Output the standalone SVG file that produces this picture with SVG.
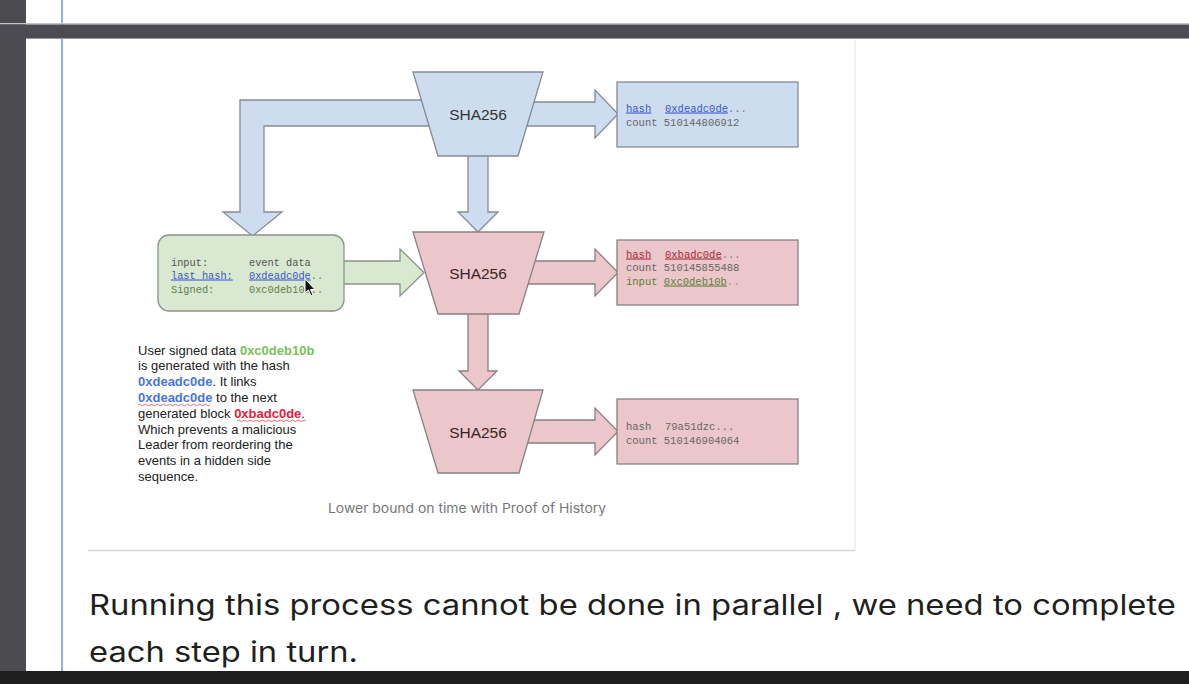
<svg xmlns="http://www.w3.org/2000/svg" width="1189" height="684" viewBox="0 0 1189 684">
<style>
.blue{fill:#cddcee;stroke:#858b95;stroke-width:1.3}
.pink{fill:#ebc6ca;stroke:#8b8083;stroke-width:1.3}
.green{fill:#d9e8d1;stroke:#8a948a;stroke-width:1.3}
.sha{font-family:"Liberation Sans",Arial,sans-serif;font-size:15.5px;text-anchor:middle}
.mono{font-family:"Liberation Mono","Courier New",monospace;font-size:10.5px;fill:#666}
.desc{font-family:"Liberation Sans",Arial,sans-serif;font-size:13px;fill:#222}
.hex{font-weight:bold}
.ul{text-decoration:underline}
</style>
<rect x="0" y="0" width="1189" height="684" fill="#ffffff"/>
<rect x="0" y="0" width="26" height="684" fill="#4b4b50"/>
<rect x="61" y="0" width="2" height="672" fill="#8fb0ee"/>
<rect x="0" y="23" width="1189" height="1.5" fill="#c4c4c6"/>
<rect x="0" y="24.5" width="1189" height="13.5" fill="#4d4b52"/>
<rect x="26" y="38" width="1163" height="1" fill="#9a999e"/>
<!-- card -->
<rect x="88" y="39" width="767" height="511" fill="#ffffff"/>
<line x1="855" y1="40" x2="855" y2="550" stroke="#e4e4e6" stroke-width="1"/>
<line x1="88" y1="550.5" x2="855" y2="550.5" stroke="#d6d6d8" stroke-width="1.5"/>

<g id="connectors">
<polygon class="blue" points="430,100 240,100 240,212 223,212 252.5,236 282,212 264,212 264,126 430,126"/>
<polygon class="blue" points="520,102 595,102 595,90 618,114 595,138 595,126 520,126"/>
<polygon class="blue" points="468,150 468,212 458,212 478,232 498,212 488,212 488,150"/>
<polygon class="green" points="338,261 400,261 400,249 424,272.5 400,296 400,284 338,284"/>
<polygon class="pink" points="520,261 595,261 595,249 618,272.5 595,296 595,284 520,284"/>
<polygon class="pink" points="468,308 468,371 459,371 478,390 497,371 488,371 488,308"/>
<polygon class="pink" points="520,420 595,420 595,408 618,431.5 595,455 595,443 520,443"/>
</g>

<g id="sha1">
<polygon class="blue" points="413,72 543,72 518,156 438,156"/>
<text class="sha" x="478" y="120" fill="#333">SHA256</text>
</g>
<g id="sha2">
<polygon class="pink" points="413,232 544,232 519,314 438,314"/>
<text class="sha" x="478" y="279" fill="#3a2326">SHA256</text>
</g>
<g id="sha3">
<polygon class="pink" points="413,390 543,390 519,473 438,473"/>
<text class="sha" x="478" y="438" fill="#3a2326">SHA256</text>
</g>

<g id="out1">
<rect class="blue" x="617" y="82" width="181" height="65"/>
<text class="mono" x="626" y="111.5"><tspan fill="#3a56c8" class="ul">hash</tspan><tspan x="665" fill="#3a56c8" class="ul">0xdeadc0de</tspan><tspan fill="#777">...</tspan></text>
<text class="mono" x="626" y="125.5">count 510144806912</text>
</g>
<g id="out2">
<rect class="pink" x="617" y="240" width="181" height="65"/>
<text class="mono" x="626" y="257.5"><tspan fill="#a8283a" class="ul">hash</tspan><tspan x="665" fill="#a8283a" class="ul">0xbadc0de</tspan><tspan fill="#777">...</tspan></text>
<text class="mono" x="626" y="271">count 510145855488</text>
<text class="mono" x="626" y="284.5"><tspan fill="#5f7f35">input</tspan> <tspan fill="#5f7f35" class="ul">0xc0deb10b</tspan><tspan fill="#8a9a6a">..</tspan></text>
</g>
<g id="out3">
<rect class="pink" x="617" y="399" width="181" height="65"/>
<text class="mono" x="626" y="429.5"><tspan>hash</tspan><tspan x="665">79a51dzc...</tspan></text>
<text class="mono" x="626" y="443.5">count 510146904064</text>
</g>

<g id="input">
<rect class="green" x="158" y="235" width="186" height="76" rx="11" ry="11"/>
<text class="mono" x="171" y="265.5" style="font-size:10.3px"><tspan fill="#555">input:</tspan><tspan x="249" fill="#555">event data</tspan></text>
<text class="mono" x="171" y="278.5" style="font-size:10.3px"><tspan fill="#3a56c8" class="ul">last hash:</tspan><tspan x="249" fill="#3a56c8" class="ul">0xdeadc0de</tspan><tspan fill="#777">..</tspan></text>
<text class="mono" x="171" y="292.5" style="font-size:10.3px"><tspan fill="#5f7f45">Signed:</tspan><tspan x="249" fill="#5f7f45">0xc0deb10b..</tspan></text>
<path d="M305,279 L305,293 L308.5,290 L311,296 L313,295 L310.5,289.5 L315,289.5 Z" fill="#111" stroke="#fff" stroke-width="1"/>
</g>

<g id="description" class="desc">
<text x="138" y="354.5">User signed data <tspan class="hex" fill="#78c257">0xc0deb10b</tspan></text>
<text x="138" y="370.3">is generated with the hash</text>
<text x="138" y="386.1"><tspan class="hex" fill="#4a76d6">0xdeadc0de</tspan>.<tspan dx="3.6">It links</tspan></text>
<text x="138" y="401.9"><tspan class="hex" fill="#4a76d6">0xdeadc0de</tspan> to the next</text>
<text x="138" y="417.7">generated block <tspan class="hex" fill="#e0223e">0xbadc0de</tspan>.</text>
<text x="138" y="433.5">Which prevents a malicious</text>
<text x="138" y="449.3">Leader from reordering the</text>
<text x="138" y="465.1">events in a hidden side</text>
<text x="138" y="480.9">sequence.</text>
<path d="M138,405 q1.5,-1.5 3,0 t3,0 t3,0 t3,0 t3,0 t3,0 t3,0 t3,0 t3,0 t3,0 t3,0 t3,0 t3,0 t3,0 t3,0 t3,0 t3,0 t3,0 t3,0 t3,0 t3,0 t3,0 t3,0 t3,0" fill="none" stroke="#e04a5a" stroke-width="0.8"/>
<path d="M237,420.8 q1.5,-1.5 3,0 t3,0 t3,0 t3,0 t3,0 t3,0 t3,0 t3,0 t3,0 t3,0 t3,0 t3,0 t3,0 t3,0 t3,0 t3,0 t3,0 t3,0 t3,0 t3,0 t3,0 t3,0 t3,0" fill="none" stroke="#e04a5a" stroke-width="0.8"/>
</g>

<text x="467" y="512.5" text-anchor="middle" font-family="Inter,'Liberation Sans',sans-serif" font-size="13" fill="#777" textLength="278" lengthAdjust="spacingAndGlyphs">Lower bound on time with Proof of History</text>

<text x="89" y="615" font-family="Inter,'Liberation Sans',sans-serif" font-size="28" fill="#1f1f1f" textLength="1087" lengthAdjust="spacingAndGlyphs">Running this process cannot be done in parallel , we need to complete</text>
<text x="89" y="662" font-family="Inter,'Liberation Sans',sans-serif" font-size="28" fill="#1f1f1f" textLength="269" lengthAdjust="spacingAndGlyphs">each step in turn.</text>

<rect x="0" y="671" width="1189" height="13" fill="#1e1e1e"/>
</svg>
